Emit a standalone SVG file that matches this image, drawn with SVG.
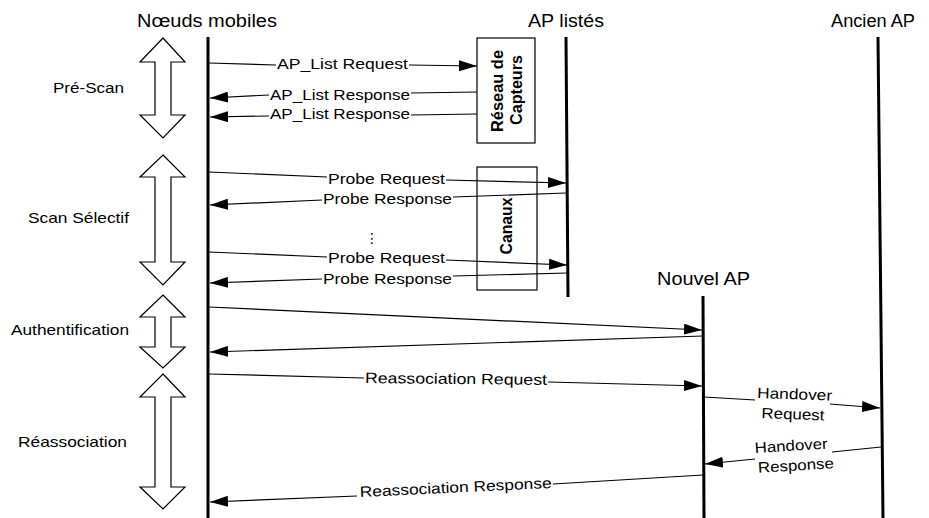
<svg xmlns="http://www.w3.org/2000/svg" width="929" height="518" viewBox="0 0 929 518">
<style>
text{font-family:"Liberation Sans",Arial,sans-serif;fill:#000}
.hdr{font-size:18px}
.lbl{font-size:15px}
.box{font-size:16px;font-weight:bold}
.life{stroke:#000;stroke-width:3;fill:none}
.msg{stroke:#000;stroke-width:1.2;fill:none}
.bx{stroke:#000;stroke-width:1.2;fill:none}
.phase{stroke:#000;stroke-width:1.2;fill:#fff;stroke-linejoin:miter}
</style>
<defs>
<marker id="ah" markerWidth="18" markerHeight="11" refX="18" refY="5.5" orient="auto" markerUnits="userSpaceOnUse">
<path d="M0,0 L18,5.5 L0,11 z" fill="#000"/>
</marker>
</defs>
<rect width="929" height="518" fill="#fff"/>

<g id="mobiles">
<text class="hdr" x="137" y="27" textLength="140" lengthAdjust="spacingAndGlyphs">Nœuds mobiles</text>
<line class="life" x1="208" y1="37" x2="208" y2="518"/>
</g>
<g id="ap-listes">
<text class="hdr" x="528" y="27" textLength="76" lengthAdjust="spacingAndGlyphs">AP listés</text>
<line class="life" x1="566" y1="37" x2="568" y2="297"/>
</g>
<g id="ancien-ap">
<text class="hdr" x="831" y="27" textLength="84" lengthAdjust="spacingAndGlyphs">Ancien AP</text>
<line class="life" x1="878" y1="37" x2="883" y2="518"/>
</g>
<g id="nouvel-ap">
<text class="hdr" x="657" y="285" textLength="93" lengthAdjust="spacingAndGlyphs">Nouvel AP</text>
<line class="life" x1="703" y1="296" x2="704" y2="518"/>
</g>

<g id="reseau-capteurs">
<rect class="bx" x="477" y="38" width="58" height="105"/>
<text class="box" text-anchor="middle" transform="translate(503,91) rotate(-90)" textLength="82" lengthAdjust="spacingAndGlyphs">Réseau de</text>
<text class="box" text-anchor="middle" transform="translate(522,90) rotate(-90)" textLength="70" lengthAdjust="spacingAndGlyphs">Capteurs</text>
</g>
<g id="canaux">
<rect class="bx" x="477" y="167" width="60" height="123"/>
<text class="box" text-anchor="middle" transform="translate(512,226) rotate(-90)" textLength="57" lengthAdjust="spacingAndGlyphs">Canaux</text>
</g>

<g id="phase-prescan">
<path class="phase" d="M163,38 L185,62 L171,62 L171,115 L185,115 L163,138 L140,115 L155,115 L155,62 L140,62 Z"/>
<text class="lbl" x="53" y="93" textLength="71" lengthAdjust="spacingAndGlyphs">Pré-Scan</text>
</g>
<g id="phase-scan">
<path class="phase" d="M163,155 L185,177 L171,177 L171,262 L185,262 L163,285 L140,262 L155,262 L155,177 L140,177 Z"/>
<text class="lbl" x="28" y="223" textLength="101" lengthAdjust="spacingAndGlyphs">Scan Sélectif</text>
</g>
<g id="phase-auth">
<path class="phase" d="M163,295 L185,317 L171,317 L171,347 L185,347 L163,368 L140,347 L155,347 L155,317 L140,317 Z"/>
<text class="lbl" x="11" y="335" textLength="118" lengthAdjust="spacingAndGlyphs">Authentification</text>
</g>
<g id="phase-reassoc">
<path class="phase" d="M163,374 L185,397 L171,397 L171,487 L185,487 L163,509 L140,487 L155,487 L155,397 L140,397 Z"/>
<text class="lbl" x="18" y="447" textLength="109" lengthAdjust="spacingAndGlyphs">Réassociation</text>
</g>

<g id="connectors">
<line class="msg" x1="209" y1="63" x2="276" y2="65"/>
<text class="lbl" x="277" y="69" textLength="131" lengthAdjust="spacingAndGlyphs">AP_List Request</text>
<line class="msg" x1="409" y1="65" x2="477" y2="66" marker-end="url(#ah)"/>

<line class="msg" x1="477" y1="92" x2="411" y2="93"/>
<text class="lbl" x="270" y="100" textLength="140" lengthAdjust="spacingAndGlyphs">AP_List Response</text>
<line class="msg" x1="269" y1="95" x2="210" y2="98" marker-end="url(#ah)"/>

<line class="msg" x1="477" y1="114" x2="411" y2="115"/>
<text class="lbl" x="270" y="119" textLength="140" lengthAdjust="spacingAndGlyphs">AP_List Response</text>
<line class="msg" x1="269" y1="116" x2="210" y2="117" marker-end="url(#ah)"/>

<line class="msg" x1="209" y1="172" x2="327" y2="177"/>
<text class="lbl" x="328" y="184" textLength="117" lengthAdjust="spacingAndGlyphs">Probe Request</text>
<line class="msg" x1="446" y1="180" x2="566" y2="183" marker-end="url(#ah)"/>

<line class="msg" x1="566" y1="193" x2="453" y2="197"/>
<text class="lbl" x="323" y="204" textLength="129" lengthAdjust="spacingAndGlyphs">Probe Response</text>
<line class="msg" x1="322" y1="200" x2="210" y2="205" marker-end="url(#ah)"/>
<text x="372" y="243" text-anchor="middle" style="font-family:'DejaVu Sans',sans-serif;font-size:14px">⋮</text>

<line class="msg" x1="209" y1="252" x2="327" y2="257"/>
<text class="lbl" x="328" y="263" textLength="117" lengthAdjust="spacingAndGlyphs">Probe Request</text>
<line class="msg" x1="446" y1="260" x2="567" y2="265" marker-end="url(#ah)"/>

<line class="msg" x1="567" y1="273" x2="453" y2="276"/>
<text class="lbl" x="323" y="284" textLength="129" lengthAdjust="spacingAndGlyphs">Probe Response</text>
<line class="msg" x1="322" y1="279" x2="210" y2="283" marker-end="url(#ah)"/>

<line class="msg" x1="209" y1="307" x2="702" y2="330" marker-end="url(#ah)"/>
<line class="msg" x1="703" y1="336" x2="210" y2="352" marker-end="url(#ah)"/>

<line class="msg" x1="209" y1="374" x2="364" y2="378"/>
<text class="lbl" x="365" y="383" transform="rotate(0.6 365 383)" textLength="182" lengthAdjust="spacingAndGlyphs">Reassociation Request</text>
<line class="msg" x1="548" y1="382" x2="702" y2="386" marker-end="url(#ah)"/>

<line class="msg" x1="704" y1="397" x2="755" y2="400"/>
<g transform="rotate(2 757 398)">
<text class="lbl" x="757" y="398" textLength="75" lengthAdjust="spacingAndGlyphs">Handover</text>
<text class="lbl" x="762" y="418" textLength="63" lengthAdjust="spacingAndGlyphs">Request</text>
</g>
<line class="msg" x1="830" y1="404" x2="880" y2="408" marker-end="url(#ah)"/>

<line class="msg" x1="881" y1="447" x2="832" y2="452"/>
<g transform="rotate(-3.5 755 453)">
<text class="lbl" x="755" y="453" textLength="73" lengthAdjust="spacingAndGlyphs">Handover</text>
<text class="lbl" x="757" y="473" textLength="76" lengthAdjust="spacingAndGlyphs">Response</text>
</g>
<line class="msg" x1="755" y1="459" x2="705" y2="464" marker-end="url(#ah)"/>

<line class="msg" x1="703" y1="475" x2="553" y2="484"/>
<text class="lbl" x="360" y="497" transform="rotate(-2.7 360 497)" textLength="192" lengthAdjust="spacingAndGlyphs">Reassociation Response</text>
<line class="msg" x1="357" y1="496" x2="210" y2="502" marker-end="url(#ah)"/>
</g>
</svg>
